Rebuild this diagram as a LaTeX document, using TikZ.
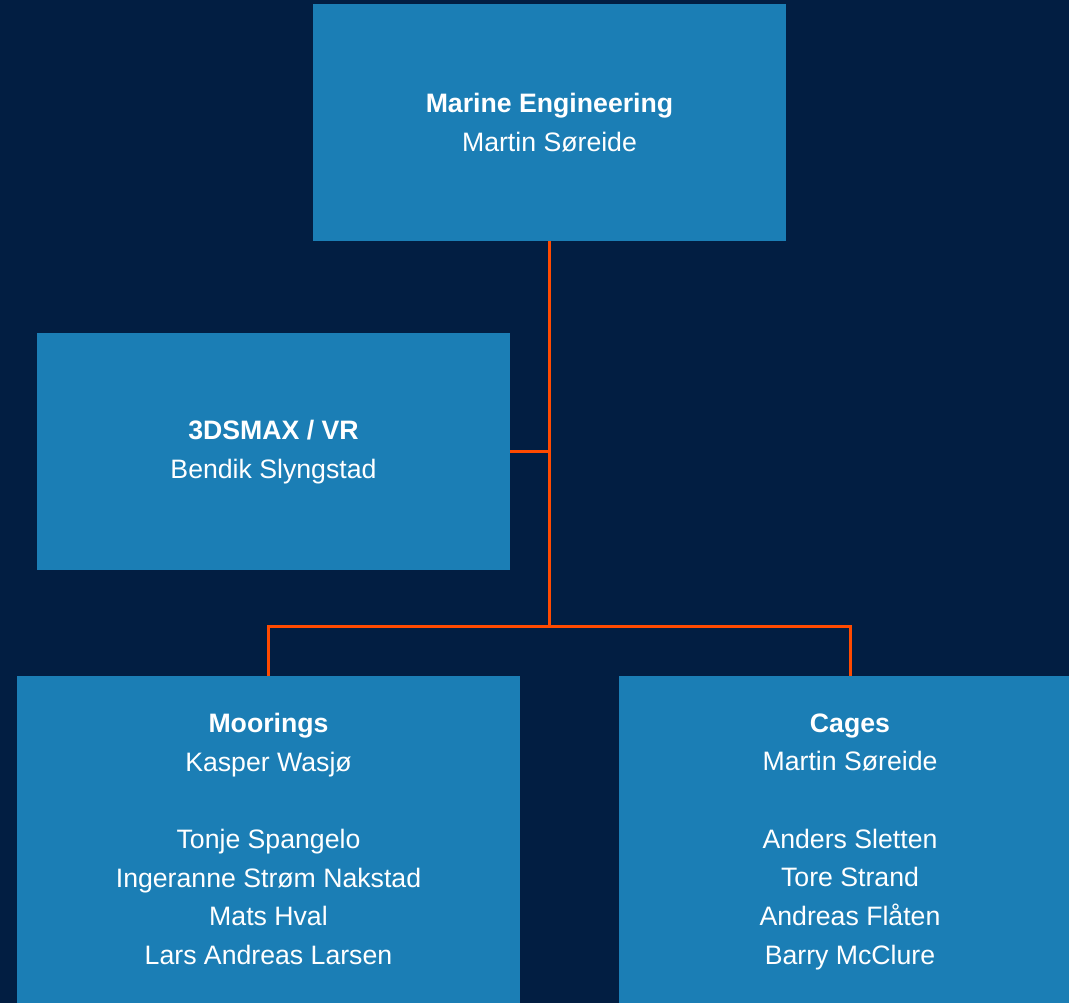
\documentclass[tikz,border=0pt]{standalone}
\usepackage{fontspec}
\setmainfont{Liberation Sans}
\usetikzlibrary{positioning, calc}
\definecolor{navybg}{RGB}{2,30,66}
\definecolor{boxblue}{RGB}{27,126,181}
\definecolor{linkorange}{RGB}{255,74,0}
\tikzstyle{orgbox}=[rectangle,fill=boxblue,text=white,inner sep=0pt,
outer sep=0pt,align=center,font=\fontsize{20}{29}\selectfont]
\tikzstyle{orgline}=[draw=linkorange,line width=2.25pt]
\begin{document}
\begin{tikzpicture}[x=0.75pt,y=-0.75pt]
    \useasboundingbox (0,0) rectangle (1069,1003);
    \fill[navybg] (0,0) rectangle (1069,1003);
    \clip (0,0) rectangle (1069,1003);

    \node[orgbox, minimum width=354.75pt, minimum height=177.75pt] (marine)
        at (549.5,122.5) {\textbf{Marine Engineering}\\Martin Søreide};
    \node[orgbox, minimum width=354.75pt, minimum height=177.75pt] (vr)
        at (273.5,451.5) {\strut\textbf{3DSMAX / VR}\\Bendik Slyngstad\strut};
    \node[orgbox, minimum width=377.25pt, minimum height=245.25pt] (moorings)
        at (268.5,839) {\textbf{Moorings}\\Kasper Wasjø\\[29pt]Tonje Spangelo\\
        Ingeranne Strøm Nakstad\\Mats Hval\\Lars Andreas Larsen};
    \node[orgbox, minimum width=346.5pt, minimum height=245.25pt] (cages)
        at (850,839) {\textbf{Cages}\\Martin Søreide\\[29pt]Anders Sletten\\
        Tore Strand\\Andreas Flåten\\\raisebox{0pt}[\height][0pt]{Barry McClure}};

    \coordinate (split) at (marine.south |- 0,626);

    \path[orgline]
        (marine.south) -- (split)
        (vr.east) -- (vr.east -| marine.south)
        (moorings.north) |- (split) -| (cages.north);
\end{tikzpicture}
\end{document}
